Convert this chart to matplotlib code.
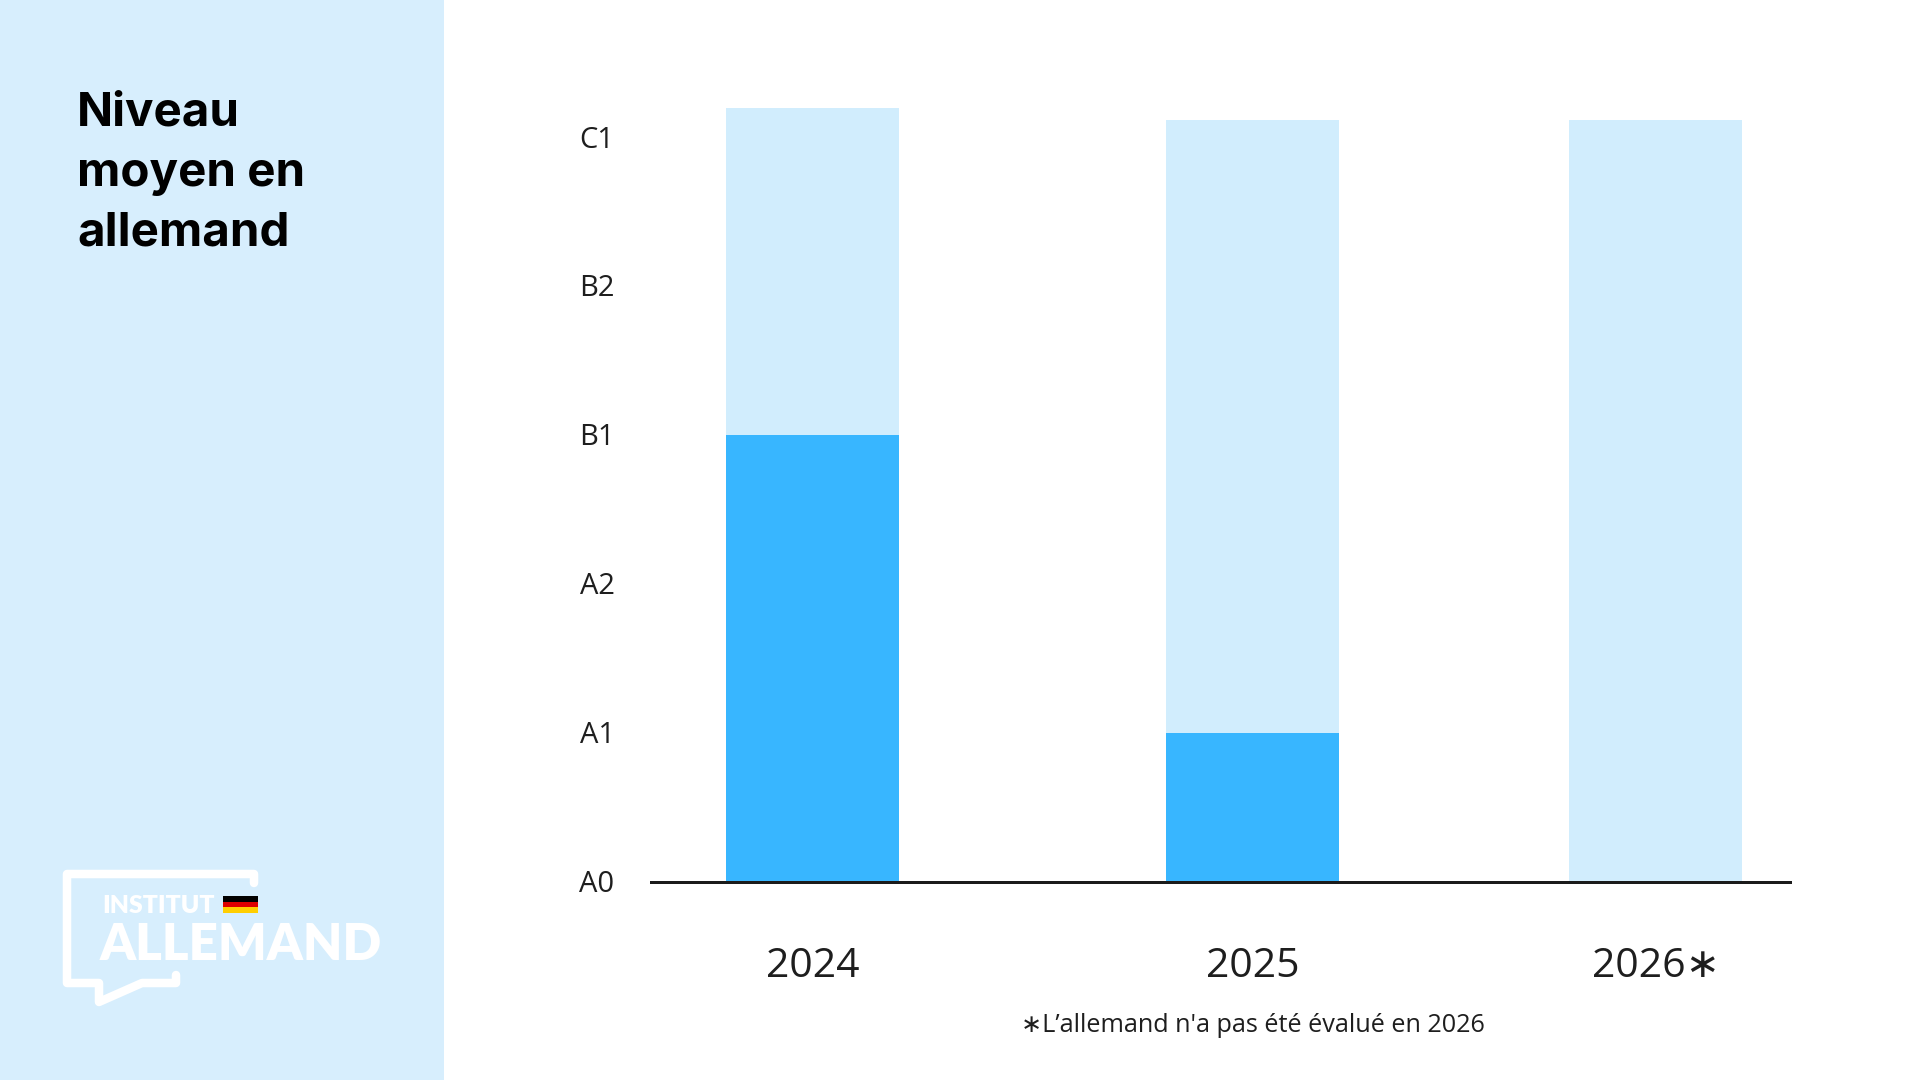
import matplotlib
matplotlib.use("Agg")
import matplotlib.pyplot as plt
from matplotlib.patches import Rectangle, PathPatch
from matplotlib.path import Path
import matplotlib.transforms as mtransforms

# ---------------- data ----------------
years = ["2024", "2025", "2026∗"]
levels = ["A0", "A1", "A2", "B1", "B2", "C1"]
background_values = [5.2, 5.12, 5.12]     # light bars (scale height)
level_values = [3.0, 1.0, 0.0]            # dark bars: B1, A1, not evaluated
title_lines = ["Niveau", "moyen en", "allemand"]
footnote = "∗L’allemand n'a pas été évalué en 2026"

# ---------------- layout ----------------
W, H = 1920, 1080
DPI = 100
bar_centers = [812.5, 1252.5, 1655.5]     # pixel-like x positions
bar_width = 173
ax_left, ax_right = 651, 1790
y0_px = 881.5
unit_px = 148.8
ymax = 5.5

PANEL = "#D7EEFD"
LIGHT = "#D1EDFD"
DARK = "#38B6FF"
TXT = "#1E1E1E"
FAM = ["Open Sans", "Noto Sans", "DejaVu Sans"]

fig = plt.figure(figsize=(W / DPI, H / DPI), dpi=DPI)
fig.patch.set_facecolor("white")

# background / decorations axes in pixel coordinates
bg = fig.add_axes([0, 0, 1, 1])
bg.set_xlim(0, W)
bg.set_ylim(H, 0)
bg.axis("off")
bg.add_patch(Rectangle((0, 0), 444, H, facecolor=PANEL, edgecolor="none", zorder=0))

# main chart axes
ax = fig.add_axes([ax_left / W, (H - y0_px) / H, (ax_right - ax_left) / W, ymax * unit_px / H])
ax.set_xlim(ax_left, ax_right)
ax.set_ylim(0, ymax)
ax.patch.set_alpha(0)
for s in ["top", "right", "left"]:
    ax.spines[s].set_visible(False)
ax.spines["bottom"].set_linewidth(3 * 72 / DPI)
ax.spines["bottom"].set_color("#1B1B1B")
ax.spines["bottom"].set_zorder(5)
ax.set_xticks([])
ax.set_yticks([])

ax.bar(bar_centers, background_values, width=bar_width, color=LIGHT, zorder=1)
ax.bar(bar_centers, level_values, width=bar_width, color=DARK, zorder=2)

# y level labels (A0..C1)
ytrans = mtransforms.offset_copy(ax.get_yaxis_transform(), fig=fig, x=0, y=-10, units="dots")
for i, lab in enumerate(levels):
    ax.text((597 - ax_left) / (ax_right - ax_left), i, lab, transform=ytrans,
            ha="center", va="baseline", fontsize=21, color=TXT, family=FAM)

# year labels
for xc, yl in zip(bar_centers, years):
    bg.text(xc, 977, yl, ha="center", va="baseline", fontsize=29.5, color=TXT, family=FAM)

# footnote
bg.text(1253, 1032, footnote, ha="center", va="baseline", fontsize=18.2, color=TXT, family=FAM)

# title
for yb, line in zip([125, 186, 246], title_lines):
    bg.text(77, yb, line, ha="left", va="baseline", fontsize=34.2,
            fontweight="bold", color="black", family=["Inter", "DejaVu Sans"])

# ---------------- logo ----------------
verts = [(254, 883), (254, 874), (67, 874), (67, 983), (99, 983), (99, 1002),
         (142, 983), (176, 983), (176, 975)]
codes = [Path.MOVETO] + [Path.LINETO] * (len(verts) - 1)
bubble = PathPatch(Path(verts, codes), facecolor="none", edgecolor="white",
                   linewidth=8.5 * 72 / DPI, capstyle="round", joinstyle="round", zorder=3)
bg.add_patch(bubble)

# flag
fx0, fx1, fy0, fy1 = 223, 258, 896, 913
sh = (fy1 - fy0) / 3
for k, c in enumerate(["#000000", "#DD0000", "#FFCE00"]):
    bg.add_patch(Rectangle((fx0, fy0 + k * sh), fx1 - fx0, sh, facecolor=c,
                           edgecolor="none", zorder=4))

renderer = fig.canvas.get_renderer()


def fit_text(x, y, s, target_w, size0, **kw):
    t = bg.text(x, y, s, ha="left", va="baseline", fontsize=size0, **kw)
    w = t.get_window_extent(renderer=renderer).width
    t.set_fontsize(size0 * target_w / w)
    return t


fit_text(102, 913, "INSTITUT", 113, 16, color="white", fontweight="heavy",
         family=["Lato", "DejaVu Sans"], zorder=4)
fit_text(100, 960, "ALLEMAND", 282, 36, color="white", fontweight="heavy",
         family=["Lato", "DejaVu Sans"], zorder=4)

fig.savefig("out.png", dpi=DPI, facecolor=fig.get_facecolor())
